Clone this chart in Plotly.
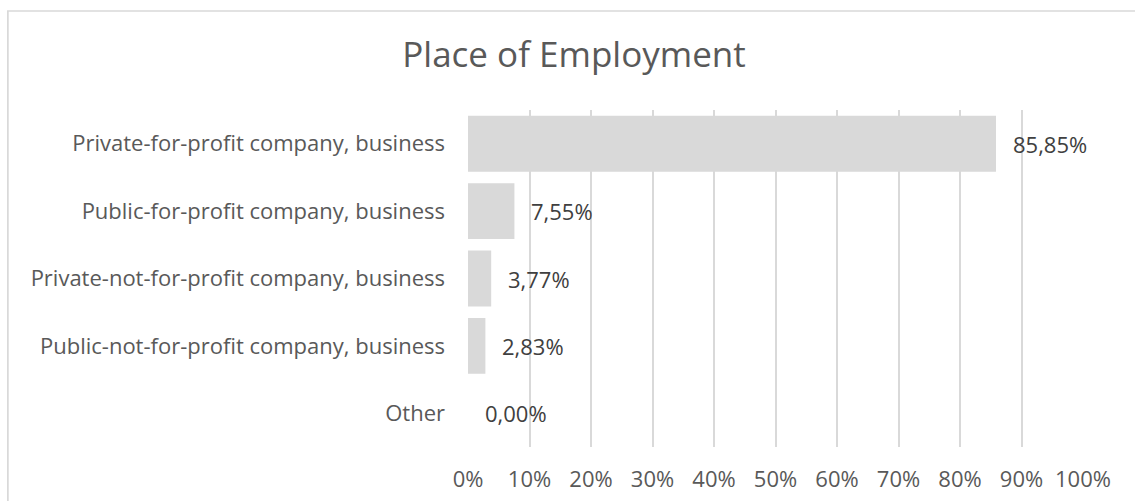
import plotly.graph_objects as go

categories = [
    "Private-for-profit company, business",
    "Public-for-profit company, business",
    "Private-not-for-profit company, business",
    "Public-not-for-profit company, business",
    "Other",
]
values = [85.85, 7.55, 3.77, 2.83, 0.00]
tick_vals = [0, 10, 20, 30, 40, 50, 60, 70, 80, 90, 100]
tick_text = ["0%", "10%", "20%", "30%", "40%", "50%", "60%", "70%", "80%", "90%", "100%"]
title_text = "Place of Employment"

W, H = 1135, 501
L, R, T, B = 467.5, 52, 110, 54
pw, ph = W - L - R, H - T - B
FONT = "Open Sans"

fig = go.Figure(go.Bar(
    x=values, y=categories, orientation="h",
    marker=dict(color="#d9d9d9", line=dict(width=0)),
    hoverinfo="skip",
))

for c, v in zip(categories, values):
    fig.add_annotation(
        x=v, y=c, xref="x", yref="y",
        text=f"{v:.2f}%".replace(".", ","),
        showarrow=False, xanchor="left", xshift=15,
        font=dict(family=FONT, size=22, color="#404040"),
    )

# chart border
fig.add_shape(
    type="rect", xref="paper", yref="paper",
    x0=(7 - L) / pw, x1=(W + 20 - L) / pw,
    y0=(H - B - (H + 20)) / ph, y1=(H - B - 11) / ph,
    line=dict(color="#d9d9d9", width=1.7), fillcolor="rgba(0,0,0,0)", layer="below",
)

fig.update_layout(
    width=W, height=H,
    margin=dict(l=L, r=R, t=T, b=B, autoexpand=False),
    paper_bgcolor="white", plot_bgcolor="white",
    bargap=0.17, showlegend=False,
    title=dict(text=title_text, xref="container", yref="container",
               x=574 / W, y=1 - 55 / H, xanchor="center", yanchor="middle",
               font=dict(family=FONT, size=35, color="#595959")),
    xaxis=dict(range=[0, 100], tickvals=tick_vals, ticktext=tick_text,
               showgrid=True, gridcolor="#d9d9d9", gridwidth=1.5,
               zeroline=False, showline=False, ticks="",
               ticklabelstandoff=17,
               tickfont=dict(family=FONT, size=22, color="#595959")),
    yaxis=dict(categoryorder="array", categoryarray=categories, autorange="reversed",
               showgrid=False, zeroline=False, showline=False, ticks="",
               ticklabelstandoff=22,
               tickfont=dict(family=FONT, size=22, color="#595959")),
)

fig.write_html("out.html")
